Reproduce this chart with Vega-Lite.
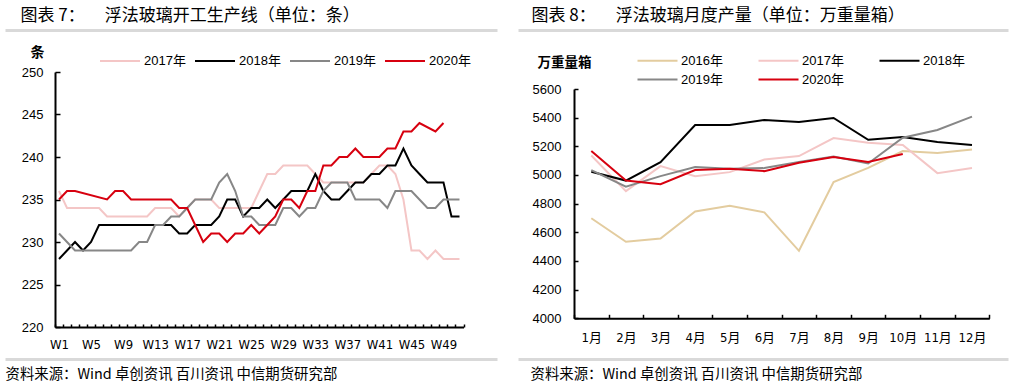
{
  "$schema": "https://vega.github.io/schema/vega-lite/v6.json",
  "width": 1020,
  "height": 391,
  "autosize": {"type": "none"},
  "padding": 0,
  "background": "white",
  "config": {
    "view": {"stroke": null},
    "axis": {"grid": false, "labelFont": "Liberation Sans", "labelColor": "#000", "labelFontSize": 13, "domainColor": "#000", "tickColor": "#000"},
    "legend": {"labelFont": "Liberation Sans, Noto Sans CJK SC", "labelFontSize": 13, "labelColor": "#000"}
  },
  "datasets": {
    "sep": [{"t": 0}, {"t": 1}],
    "weekly": [
      {"s":"2017年","w":1,"v":236},{"s":"2017年","w":2,"v":234},{"s":"2017年","w":3,"v":234},{"s":"2017年","w":4,"v":234},{"s":"2017年","w":5,"v":234},{"s":"2017年","w":6,"v":234},{"s":"2017年","w":7,"v":233},{"s":"2017年","w":8,"v":233},{"s":"2017年","w":9,"v":233},{"s":"2017年","w":10,"v":233},{"s":"2017年","w":11,"v":233},{"s":"2017年","w":12,"v":233},{"s":"2017年","w":13,"v":234},{"s":"2017年","w":14,"v":234},{"s":"2017年","w":15,"v":234},{"s":"2017年","w":16,"v":233},{"s":"2017年","w":17,"v":234},{"s":"2017年","w":18,"v":235},{"s":"2017年","w":19,"v":235},{"s":"2017年","w":20,"v":235},{"s":"2017年","w":21,"v":234},{"s":"2017年","w":22,"v":234},{"s":"2017年","w":23,"v":234},{"s":"2017年","w":24,"v":234},{"s":"2017年","w":25,"v":234},{"s":"2017年","w":26,"v":236},{"s":"2017年","w":27,"v":238},{"s":"2017年","w":28,"v":238},{"s":"2017年","w":29,"v":239},{"s":"2017年","w":30,"v":239},{"s":"2017年","w":31,"v":239},{"s":"2017年","w":32,"v":239},{"s":"2017年","w":33,"v":238},{"s":"2017年","w":34,"v":237},{"s":"2017年","w":35,"v":237},{"s":"2017年","w":36,"v":237},{"s":"2017年","w":37,"v":237},{"s":"2017年","w":38,"v":237},{"s":"2017年","w":39,"v":237},{"s":"2017年","w":40,"v":238},{"s":"2017年","w":41,"v":239},{"s":"2017年","w":42,"v":239},{"s":"2017年","w":43,"v":238},{"s":"2017年","w":44,"v":235},{"s":"2017年","w":45,"v":229},{"s":"2017年","w":46,"v":229},{"s":"2017年","w":47,"v":228},{"s":"2017年","w":48,"v":229},{"s":"2017年","w":49,"v":228},{"s":"2017年","w":50,"v":228},{"s":"2017年","w":51,"v":228},
      {"s":"2018年","w":1,"v":228},{"s":"2018年","w":2,"v":229},{"s":"2018年","w":3,"v":230},{"s":"2018年","w":4,"v":229},{"s":"2018年","w":5,"v":230},{"s":"2018年","w":6,"v":232},{"s":"2018年","w":7,"v":232},{"s":"2018年","w":8,"v":232},{"s":"2018年","w":9,"v":232},{"s":"2018年","w":10,"v":232},{"s":"2018年","w":11,"v":232},{"s":"2018年","w":12,"v":232},{"s":"2018年","w":13,"v":232},{"s":"2018年","w":14,"v":232},{"s":"2018年","w":15,"v":232},{"s":"2018年","w":16,"v":231},{"s":"2018年","w":17,"v":231},{"s":"2018年","w":18,"v":232},{"s":"2018年","w":19,"v":232},{"s":"2018年","w":20,"v":232},{"s":"2018年","w":21,"v":233},{"s":"2018年","w":22,"v":235},{"s":"2018年","w":23,"v":235},{"s":"2018年","w":24,"v":233},{"s":"2018年","w":25,"v":234},{"s":"2018年","w":26,"v":234},{"s":"2018年","w":27,"v":235},{"s":"2018年","w":28,"v":234},{"s":"2018年","w":29,"v":235},{"s":"2018年","w":30,"v":236},{"s":"2018年","w":31,"v":236},{"s":"2018年","w":32,"v":236},{"s":"2018年","w":33,"v":238},{"s":"2018年","w":34,"v":236},{"s":"2018年","w":35,"v":235},{"s":"2018年","w":36,"v":235},{"s":"2018年","w":37,"v":236},{"s":"2018年","w":38,"v":237},{"s":"2018年","w":39,"v":237},{"s":"2018年","w":40,"v":238},{"s":"2018年","w":41,"v":238},{"s":"2018年","w":42,"v":239},{"s":"2018年","w":43,"v":239},{"s":"2018年","w":44,"v":241},{"s":"2018年","w":45,"v":239},{"s":"2018年","w":46,"v":238},{"s":"2018年","w":47,"v":237},{"s":"2018年","w":48,"v":237},{"s":"2018年","w":49,"v":237},{"s":"2018年","w":50,"v":233},{"s":"2018年","w":51,"v":233},
      {"s":"2019年","w":1,"v":231},{"s":"2019年","w":2,"v":230},{"s":"2019年","w":3,"v":229},{"s":"2019年","w":4,"v":229},{"s":"2019年","w":5,"v":229},{"s":"2019年","w":6,"v":229},{"s":"2019年","w":7,"v":229},{"s":"2019年","w":8,"v":229},{"s":"2019年","w":9,"v":229},{"s":"2019年","w":10,"v":229},{"s":"2019年","w":11,"v":230},{"s":"2019年","w":12,"v":230},{"s":"2019年","w":13,"v":232},{"s":"2019年","w":14,"v":232},{"s":"2019年","w":15,"v":233},{"s":"2019年","w":16,"v":233},{"s":"2019年","w":17,"v":234},{"s":"2019年","w":18,"v":235},{"s":"2019年","w":19,"v":235},{"s":"2019年","w":20,"v":235},{"s":"2019年","w":21,"v":237},{"s":"2019年","w":22,"v":238},{"s":"2019年","w":23,"v":236},{"s":"2019年","w":24,"v":233},{"s":"2019年","w":25,"v":233},{"s":"2019年","w":26,"v":232},{"s":"2019年","w":27,"v":232},{"s":"2019年","w":28,"v":232},{"s":"2019年","w":29,"v":234},{"s":"2019年","w":30,"v":234},{"s":"2019年","w":31,"v":233},{"s":"2019年","w":32,"v":234},{"s":"2019年","w":33,"v":234},{"s":"2019年","w":34,"v":236},{"s":"2019年","w":35,"v":237},{"s":"2019年","w":36,"v":237},{"s":"2019年","w":37,"v":237},{"s":"2019年","w":38,"v":235},{"s":"2019年","w":39,"v":235},{"s":"2019年","w":40,"v":235},{"s":"2019年","w":41,"v":235},{"s":"2019年","w":42,"v":234},{"s":"2019年","w":43,"v":236},{"s":"2019年","w":44,"v":236},{"s":"2019年","w":45,"v":236},{"s":"2019年","w":46,"v":235},{"s":"2019年","w":47,"v":234},{"s":"2019年","w":48,"v":234},{"s":"2019年","w":49,"v":235},{"s":"2019年","w":50,"v":235},{"s":"2019年","w":51,"v":235},
      {"s":"2020年","w":1,"v":235},{"s":"2020年","w":2,"v":236},{"s":"2020年","w":3,"v":236},{"s":"2020年","w":7,"v":235},{"s":"2020年","w":8,"v":236},{"s":"2020年","w":9,"v":236},{"s":"2020年","w":10,"v":235},{"s":"2020年","w":11,"v":235},{"s":"2020年","w":12,"v":235},{"s":"2020年","w":13,"v":235},{"s":"2020年","w":14,"v":235},{"s":"2020年","w":15,"v":235},{"s":"2020年","w":16,"v":234},{"s":"2020年","w":17,"v":234},{"s":"2020年","w":18,"v":232},{"s":"2020年","w":19,"v":230},{"s":"2020年","w":20,"v":231},{"s":"2020年","w":21,"v":231},{"s":"2020年","w":22,"v":230},{"s":"2020年","w":23,"v":231},{"s":"2020年","w":24,"v":231},{"s":"2020年","w":25,"v":232},{"s":"2020年","w":26,"v":231},{"s":"2020年","w":27,"v":232},{"s":"2020年","w":28,"v":233},{"s":"2020年","w":29,"v":235},{"s":"2020年","w":30,"v":235},{"s":"2020年","w":31,"v":234},{"s":"2020年","w":32,"v":236},{"s":"2020年","w":33,"v":236},{"s":"2020年","w":34,"v":239},{"s":"2020年","w":35,"v":239},{"s":"2020年","w":36,"v":240},{"s":"2020年","w":37,"v":240},{"s":"2020年","w":38,"v":241},{"s":"2020年","w":39,"v":240},{"s":"2020年","w":40,"v":240},{"s":"2020年","w":41,"v":240},{"s":"2020年","w":42,"v":241},{"s":"2020年","w":43,"v":241},{"s":"2020年","w":44,"v":243},{"s":"2020年","w":45,"v":243},{"s":"2020年","w":46,"v":244},{"s":"2020年","w":48,"v":243},{"s":"2020年","w":49,"v":244}
    ],
    "monthly": [
      {"s":"2016年","m":1,"v":4698},{"s":"2016年","m":2,"v":4534},{"s":"2016年","m":3,"v":4557},{"s":"2016年","m":4,"v":4746},{"s":"2016年","m":5,"v":4786},{"s":"2016年","m":6,"v":4739},{"s":"2016年","m":7,"v":4471},{"s":"2016年","m":8,"v":4950},{"s":"2016年","m":9,"v":5050},{"s":"2016年","m":10,"v":5167},{"s":"2016年","m":11,"v":5153},{"s":"2016年","m":12,"v":5178},
      {"s":"2017年","m":1,"v":5136},{"s":"2017年","m":2,"v":4887},{"s":"2017年","m":3,"v":5062},{"s":"2017年","m":4,"v":4992},{"s":"2017年","m":5,"v":5020},{"s":"2017年","m":6,"v":5108},{"s":"2017年","m":7,"v":5132},{"s":"2017年","m":8,"v":5258},{"s":"2017年","m":9,"v":5225},{"s":"2017年","m":10,"v":5209},{"s":"2017年","m":11,"v":5013},{"s":"2017年","m":12,"v":5048},
      {"s":"2018年","m":1,"v":5022},{"s":"2018年","m":2,"v":4961},{"s":"2018年","m":3,"v":5090},{"s":"2018年","m":4,"v":5349},{"s":"2018年","m":5,"v":5349},{"s":"2018年","m":6,"v":5384},{"s":"2018年","m":7,"v":5370},{"s":"2018年","m":8,"v":5398},{"s":"2018年","m":9,"v":5246},{"s":"2018年","m":10,"v":5265},{"s":"2018年","m":11,"v":5230},{"s":"2018年","m":12,"v":5209},
      {"s":"2019年","m":1,"v":5034},{"s":"2019年","m":2,"v":4919},{"s":"2019年","m":3,"v":4992},{"s":"2019年","m":4,"v":5055},{"s":"2019年","m":5,"v":5043},{"s":"2019年","m":6,"v":5048},{"s":"2019年","m":7,"v":5090},{"s":"2019年","m":8,"v":5129},{"s":"2019年","m":9,"v":5080},{"s":"2019年","m":10,"v":5260},{"s":"2019年","m":11,"v":5314},{"s":"2019年","m":12,"v":5407},
      {"s":"2020年","m":1,"v":5167},{"s":"2020年","m":2,"v":4961},{"s":"2020年","m":3,"v":4936},{"s":"2020年","m":4,"v":5034},{"s":"2020年","m":5,"v":5043},{"s":"2020年","m":6,"v":5027},{"s":"2020年","m":7,"v":5085},{"s":"2020年","m":8,"v":5125},{"s":"2020年","m":9,"v":5090},{"s":"2020年","m":10,"v":5146}
    ]
  },
  "layer": [
    {
      "data": {"name": "weekly"},
      "mark": {"type": "line", "strokeWidth": 2},
      "encoding": {
        "x": {"field": "w", "type": "ordinal",
          "scale": {"type": "band", "range": [55, 463.5], "paddingInner": 0, "paddingOuter": 0},
          "axis": {"orient": "bottom", "offset": -64, "domainWidth": 2, "tickBand": "extent", "tickSize": -3, "tickWidth": 1.5, "labelAngle": 0, "labelOverlap": false, "labelExpr": "datum.value % 4 == 1 ? 'W' + datum.value : ''", "labelFont": "Liberation Sans Narrow, DejaVu Sans Condensed", "labelFontSize": 13, "labelPadding": 14, "title": null}},
        "y": {"field": "v", "type": "quantitative",
          "scale": {"domain": [220, 250], "range": [327, 72], "zero": false, "nice": false},
          "axis": {"orient": "left", "offset": -55, "values": [220, 225, 230, 235, 240, 245, 250], "domainWidth": 2, "tickSize": -5, "tickWidth": 1.5, "labelPadding": 17, "title": "条", "titleAngle": 0, "titleX": -18, "titleY": 56, "titleAlign": "center", "titleBaseline": "alphabetic", "titleFont": "Noto Sans CJK SC", "titleFontWeight": "bold", "titleFontSize": 14, "titleColor": "#000"}},
        "color": {"field": "s", "type": "nominal",
          "scale": {"domain": ["2017年", "2018年", "2019年", "2020年"], "range": ["#f4c6c6", "#000000", "#878787", "#d7000f"]},
          "legend": {"orient": "none", "legendX": 99, "legendY": 40, "direction": "horizontal", "title": null, "symbolType": "stroke", "symbolSize": 1600, "symbolStrokeWidth": 2, "labelOffset": 3, "columnPadding": 5}}
      }
    },
    {
      "data": {"name": "monthly"},
      "mark": {"type": "line", "strokeWidth": 2},
      "encoding": {
        "x": {"field": "m", "type": "ordinal",
          "scale": {"type": "band", "range": [574, 989.3], "paddingInner": 0, "paddingOuter": 0},
          "axis": {"orient": "bottom", "offset": -72.7, "domainWidth": 2, "tickBand": "extent", "tickSize": -4, "tickWidth": 1.5, "labelAngle": 0, "labelOverlap": false, "labelExpr": "datum.value ? datum.value + '月' : ''", "labelFont": "Liberation Sans Narrow, DejaVu Sans Condensed, Noto Sans CJK SC", "labelFontSize": 13, "labelPadding": 17, "title": null}},
        "y": {"field": "v", "type": "quantitative",
          "scale": {"domain": [4000, 5600], "range": [318.3, 89], "zero": false, "nice": false},
          "axis": {"orient": "left", "offset": -574, "values": [4000, 4200, 4400, 4600, 4800, 5000, 5200, 5400, 5600], "format": "d", "domainWidth": 2, "tickSize": -4, "tickWidth": 1.5, "labelPadding": 17, "title": "万重量箱", "titleAngle": 0, "titleX": -10, "titleY": 66, "titleAlign": "center", "titleBaseline": "alphabetic", "titleFont": "Noto Sans CJK SC", "titleFontWeight": "bold", "titleFontSize": 13.5, "titleColor": "#000"}},
        "color": {"field": "s", "type": "nominal",
          "scale": {"domain": ["2016年", "2017年", "2018年", "2019年", "2020年"], "range": ["#e3cc9f", "#f4c6c6", "#000000", "#878787", "#d7000f"]},
          "legend": {"orient": "none", "legendX": 651, "legendY": 54, "direction": "horizontal", "columns": 3, "title": null, "symbolType": "M-5,0H5", "symbolSize": 64, "symbolStrokeWidth": 2, "labelOffset": 17, "columnPadding": 31, "rowPadding": 5}}
      }
    },
    {
      "data": {"name": "sep"},
      "mark": {"type": "point", "opacity": 0},
      "encoding": {
        "x": {"field": "t", "type": "quantitative", "scale": {"domain": [0, 1], "range": [5, 497], "nice": false, "zero": false},
          "axis": {"orient": "top", "offset": -30, "domainColor": "#d9d9d9", "domainWidth": 3, "ticks": false, "labels": false, "title": "图表 7：\u3000\u00a0\u00a0\u00a0浮法玻璃开工生产线（单位：条）", "titleX": 20, "titleY": -10, "titleAlign": "left", "titleBaseline": "alphabetic", "titleFont": "Noto Sans CJK SC", "titleFontSize": 17, "titleFontWeight": "normal", "titleColor": "#000"}}
      }
    },
    {
      "data": {"name": "sep"},
      "mark": {"type": "point", "opacity": 0},
      "encoding": {
        "x": {"field": "t", "type": "quantitative", "scale": {"domain": [0, 1], "range": [5, 497], "nice": false, "zero": false},
          "axis": {"orient": "bottom", "offset": -32, "domainColor": "#d9d9d9", "domainWidth": 3, "ticks": false, "labels": false, "title": "资料来源：Wind 卓创资讯 百川资讯 中信期货研究部", "titleX": 5, "titleY": 19, "titleAlign": "left", "titleBaseline": "alphabetic", "titleFont": "Noto Sans CJK SC", "titleFontSize": 14.4, "titleFontWeight": "normal", "titleColor": "#000"}}
      }
    },
    {
      "data": {"name": "sep"},
      "mark": {"type": "point", "opacity": 0},
      "encoding": {
        "x": {"field": "t", "type": "quantitative", "scale": {"domain": [0, 1], "range": [518, 1008], "nice": false, "zero": false},
          "axis": {"orient": "top", "offset": -30, "domainColor": "#d9d9d9", "domainWidth": 3, "ticks": false, "labels": false, "title": "图表 8：\u3000\u00a0\u00a0\u00a0浮法玻璃月度产量（单位：万重量箱）", "titleX": 531, "titleY": -10, "titleAlign": "left", "titleBaseline": "alphabetic", "titleFont": "Noto Sans CJK SC", "titleFontSize": 17, "titleFontWeight": "normal", "titleColor": "#000"}}
      }
    },
    {
      "data": {"name": "sep"},
      "mark": {"type": "point", "opacity": 0},
      "encoding": {
        "x": {"field": "t", "type": "quantitative", "scale": {"domain": [0, 1], "range": [518, 1008], "nice": false, "zero": false},
          "axis": {"orient": "bottom", "offset": -32, "domainColor": "#d9d9d9", "domainWidth": 3, "ticks": false, "labels": false, "title": "资料来源：Wind 卓创资讯 百川资讯 中信期货研究部", "titleX": 530, "titleY": 19, "titleAlign": "left", "titleBaseline": "alphabetic", "titleFont": "Noto Sans CJK SC", "titleFontSize": 14.4, "titleFontWeight": "normal", "titleColor": "#000"}}
      }
    }
  ],
  "resolve": {
    "scale": {"x": "independent", "y": "independent", "color": "independent"},
    "axis": {"x": "independent", "y": "independent"},
    "legend": {"color": "independent"}
  }
}
